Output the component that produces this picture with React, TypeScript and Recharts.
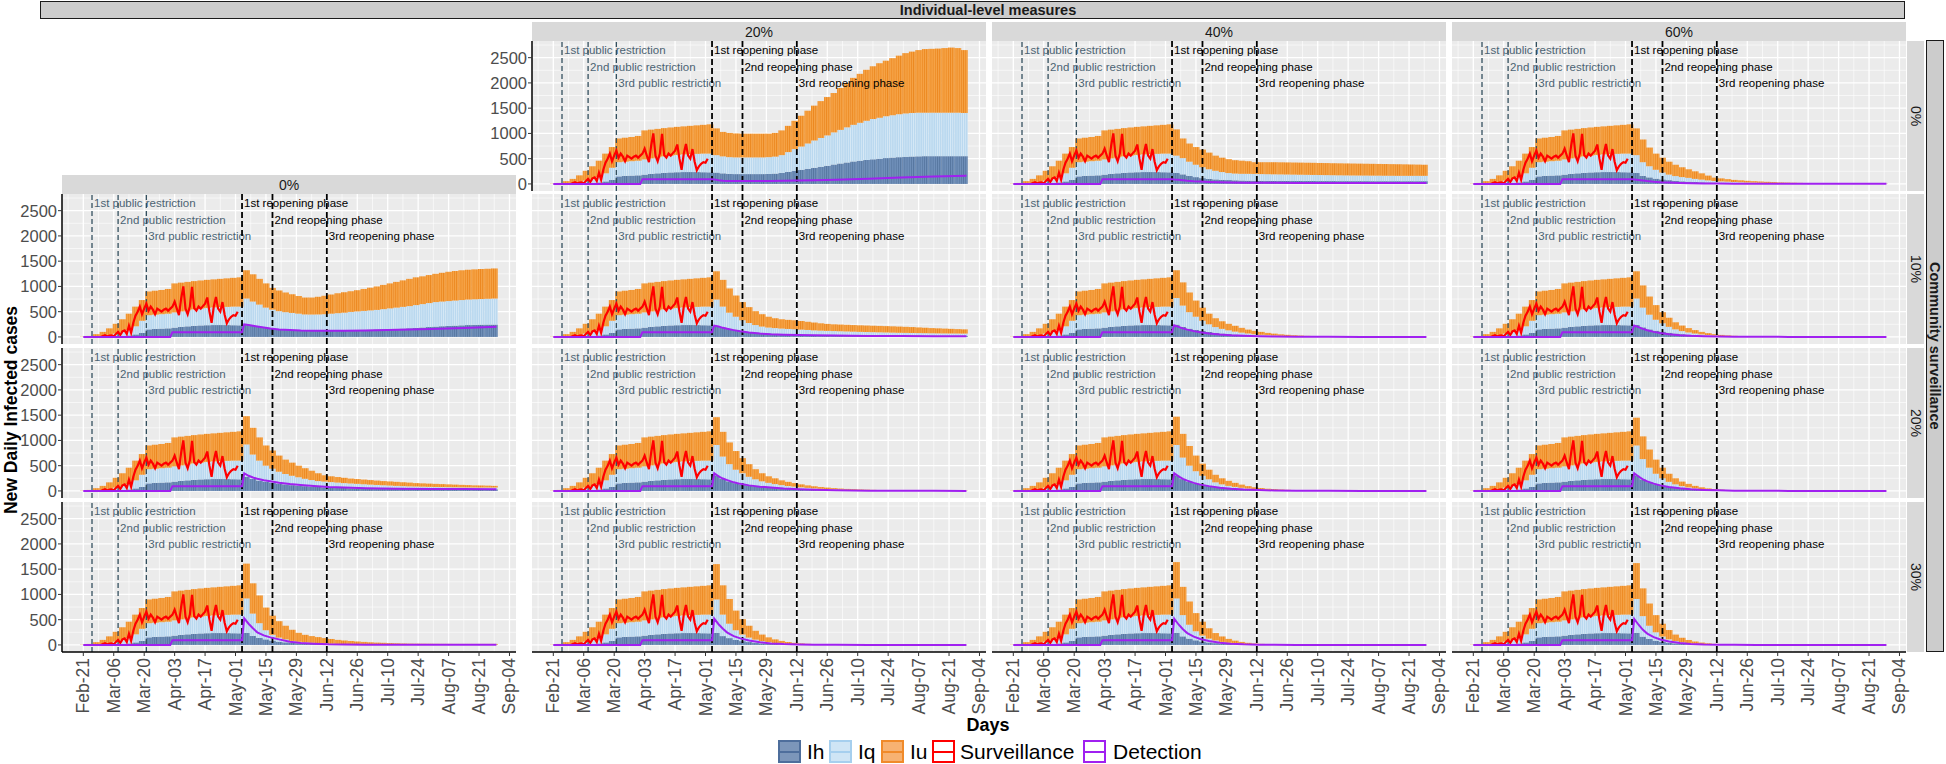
import React from 'react';
import {
  ComposedChart,
  Bar,
  Line,
  XAxis,
  YAxis,
  CartesianGrid,
  ReferenceLine,
} from 'recharts';

// ---------- data ----------
const IND_LEVELS = ['0%', '20%', '40%', '60%'];
const COMMUNITY_LEVELS = ['0%', '10%', '20%', '30%'];
const TICK_DAYS = [0, 14, 28, 42, 56, 70, 84, 98, 112, 126, 140, 154, 168, 182, 196];
const TICK_LABELS = [
  'Feb-21', 'Mar-06', 'Mar-20', 'Apr-03', 'Apr-17', 'May-01', 'May-15', 'May-29',
  'Jun-12', 'Jun-26', 'Jul-10', 'Jul-24', 'Aug-07', 'Aug-21', 'Sep-04',
];

// bars every 3 days from Feb-21 (day 0); first 25 bins (day 0..72) are common to every panel
const PRE_IH_TOP = [0, 0, 2, 5, 8, 12, 20, 30, 50, 80, 150, 160, 165, 170, 185, 200, 210, 220, 228, 232, 235, 235, 235, 232, 230];
const PRE_IQ_TOP = [0, 3, 10, 20, 40, 65, 95, 135, 210, 320, 430, 440, 450, 460, 485, 505, 525, 545, 560, 575, 585, 590, 595, 600, 600];
const PRE_TOTAL = [5, 20, 55, 100, 170, 260, 350, 460, 600, 730, 900, 915, 930, 950, 1060, 1075, 1090, 1105, 1118, 1130, 1140, 1150, 1160, 1170, 1180];

// surveillance, daily from day 8 (Feb-29) to day 71
const SURV_START = 8;
const SURVEILLANCE = [
  0, 20, 35, 10, 25, 30, 10, 60, 100, 40,
  110, 130, 60, 220, 80, 280, 420, 500, 600, 450,
  560, 660, 520, 600, 540, 450, 560, 530, 500, 540,
  560, 520, 560, 600, 700, 560, 430, 760, 1000, 560,
  450, 600, 990, 570, 520, 600, 560, 610, 660, 780,
  500, 280, 600, 790, 560, 500, 690, 440, 270, 350,
  400, 430, 420, 500,
];

const DET_PRE_DAYS = [0, 40, 41, 72];
const DET_PRE = [0, 0, 95, 95];
const DET_DAYS = [73, 74, 76, 78, 80, 83, 86, 90, 95, 100, 106, 113, 120, 130, 145, 160, 175, 190];

// post-May bins: day 75, 78, ..., 189 (39 values). C = community surveillance, I = individual-level
const TOT_C0_I20 = [1100, 1030, 1010, 1000, 995, 995, 995, 995, 995, 1010, 1060, 1150, 1250, 1350, 1450, 1550, 1640, 1720, 1800, 1900, 2000, 2100, 2180, 2260, 2330, 2390, 2440, 2490, 2540, 2590, 2620, 2650, 2670, 2675, 2680, 2690, 2700, 2690, 2650];
const IQTOP_C0_I20 = [570, 545, 530, 525, 525, 525, 525, 525, 530, 540, 570, 630, 690, 740, 800, 860, 910, 960, 1020, 1070, 1120, 1170, 1210, 1250, 1285, 1310, 1340, 1360, 1380, 1395, 1405, 1410, 1410, 1410, 1410, 1410, 1410, 1410, 1405];
const IH_C0_I20 = [225, 210, 200, 195, 195, 195, 195, 195, 198, 205, 220, 240, 260, 280, 300, 320, 340, 360, 385, 405, 425, 445, 460, 475, 488, 500, 512, 522, 530, 538, 543, 547, 550, 550, 550, 550, 550, 550, 550];
const DET_C0_I20 = [95, 90, 75, 65, 60, 58, 58, 58, 58, 60, 62, 66, 72, 85, 105, 125, 145, 160];

const TOT_C0_I40 = [1080, 900, 800, 730, 680, 620, 560, 520, 490, 470, 460, 450, 430, 430, 430, 430, 428, 426, 424, 422, 420, 418, 415, 413, 410, 408, 406, 404, 402, 400, 398, 396, 394, 392, 390, 388, 385, 383, 380];
const IQTOP_C0_I40 = [560, 510, 440, 380, 330, 290, 260, 235, 215, 205, 200, 200, 198, 195, 192, 190, 188, 186, 184, 182, 180, 178, 176, 174, 172, 170, 168, 167, 166, 165, 164, 163, 162, 161, 160, 160, 160, 160, 160];
const IH_C0_I40 = [220, 190, 160, 135, 115, 100, 90, 82, 77, 72, 68, 65, 63, 62, 61, 60, 60, 59, 59, 58, 58, 58, 57, 57, 57, 56, 56, 56, 56, 56, 55, 55, 55, 55, 55, 55, 55, 55, 55];
const DET_C0_I40 = [95, 90, 85, 75, 65, 55, 48, 40, 32, 27, 24, 22, 21, 20, 20, 20, 20, 20];

const TOT_C0_I60 = [1100, 880, 720, 600, 520, 440, 380, 330, 290, 250, 210, 165, 125, 110, 95, 80, 72, 62, 55, 48, 42, 36, 30, 27, 24, 21, 18, 15, 13, 11, 10, 9, 8, 8, 7, 7, 7, 7, 7];
const IQTOP_C0_I60 = [570, 430, 350, 280, 225, 185, 155, 135, 120, 100, 85, 70, 58, 50, 44, 38, 33, 28, 25, 22, 19, 16, 14, 12, 10, 8, 7, 6, 5, 4, 4, 3, 3, 3, 3, 3, 3, 3, 3];
const IH_C0_I60 = [220, 160, 130, 105, 90, 75, 62, 52, 45, 38, 33, 29, 26, 23, 20, 18, 16, 14, 12, 10, 9, 8, 7, 6, 5, 5, 4, 4, 3, 3, 3, 2, 2, 2, 2, 2, 2, 2, 2];
const DET_C0_I60 = [95, 90, 80, 70, 58, 45, 35, 27, 20, 14, 10, 8, 6, 5, 4, 3, 3, 3];

const TOT_C10_I0 = [1320, 1240, 1150, 1060, 970, 920, 880, 845, 810, 780, 780, 795, 815, 840, 865, 885, 905, 925, 950, 975, 1000, 1030, 1060, 1090, 1120, 1150, 1180, 1200, 1225, 1250, 1270, 1290, 1305, 1320, 1330, 1338, 1345, 1350, 1356];
const IQTOP_C10_I0 = [760, 700, 640, 580, 540, 510, 490, 475, 460, 445, 443, 445, 450, 460, 470, 480, 495, 505, 515, 525, 535, 550, 565, 580, 595, 610, 630, 650, 670, 690, 700, 710, 720, 730, 740, 745, 750, 755, 760];
const IH_C10_I0 = [245, 225, 205, 185, 165, 155, 145, 138, 134, 132, 132, 132, 132, 133, 134, 136, 138, 140, 143, 146, 150, 154, 158, 162, 166, 172, 180, 188, 196, 205, 212, 218, 224, 230, 235, 240, 243, 245, 245];
const DET_C10_I0 = [95, 250, 235, 220, 205, 185, 165, 148, 135, 125, 120, 120, 122, 128, 140, 155, 175, 200];

const TOT_C10_I20 = [1300, 1130, 960, 820, 690, 590, 510, 450, 400, 370, 350, 338, 330, 315, 300, 285, 270, 258, 250, 245, 240, 235, 230, 226, 222, 218, 214, 210, 205, 200, 195, 188, 182, 175, 170, 165, 160, 155, 150];
const IQTOP_C10_I20 = [740, 600, 480, 400, 330, 275, 235, 205, 185, 175, 165, 158, 152, 145, 138, 130, 124, 120, 116, 112, 108, 104, 100, 97, 94, 91, 88, 85, 82, 80, 78, 76, 74, 72, 70, 69, 68, 67, 66];
const IH_C10_I20 = [215, 185, 160, 140, 120, 100, 88, 78, 70, 64, 58, 53, 48, 44, 40, 37, 35, 33, 31, 30, 29, 28, 27, 26, 25, 25, 24, 24, 23, 23, 22, 22, 22, 21, 21, 21, 20, 20, 20];
const DET_C10_I20 = [95, 225, 205, 180, 160, 135, 112, 90, 68, 54, 45, 38, 32, 26, 20, 17, 15, 13];

const TOT_C10_I40 = [1320, 1080, 880, 720, 580, 460, 370, 310, 260, 220, 180, 145, 120, 100, 80, 65, 52, 42, 34, 27, 21, 17, 13, 10, 8, 6, 5, 4, 3, 3, 2, 2, 2, 2, 1, 1, 1, 1, 1];
const IQTOP_C10_I40 = [770, 620, 490, 400, 320, 250, 195, 160, 130, 105, 85, 68, 53, 43, 34, 27, 21, 17, 13, 10, 8, 6, 5, 4, 3, 2, 2, 1, 1, 1, 1, 1, 1, 1, 1, 1, 0, 0, 0];
const IH_C10_I40 = [245, 200, 165, 140, 120, 100, 82, 68, 57, 48, 40, 33, 25, 20, 16, 13, 10, 8, 7, 5, 4, 3, 3, 2, 2, 1, 1, 1, 1, 1, 1, 0, 0, 0, 0, 0, 0, 0, 0];
const DET_C10_I40 = [95, 230, 200, 170, 145, 115, 92, 70, 48, 33, 22, 14, 9, 5, 2, 1, 1, 0];

const TOT_C10_I60 = [1300, 1020, 800, 630, 490, 380, 290, 225, 175, 135, 100, 75, 55, 40, 30, 22, 16, 12, 9, 7, 5, 4, 3, 3, 2, 2, 2, 1, 1, 1, 1, 1, 1, 1, 1, 1, 1, 1, 1];
const IQTOP_C10_I60 = [760, 580, 440, 340, 270, 200, 150, 115, 88, 67, 50, 37, 28, 20, 15, 11, 8, 6, 4, 3, 2, 2, 1, 1, 1, 1, 1, 0, 0, 0, 0, 0, 0, 0, 0, 0, 0, 0, 0];
const IH_C10_I60 = [240, 190, 150, 125, 105, 85, 68, 55, 44, 35, 27, 21, 16, 12, 9, 7, 5, 4, 3, 2, 2, 1, 1, 1, 0, 0, 0, 0, 0, 0, 0, 0, 0, 0, 0, 0, 0, 0, 0];
const DET_C10_I60 = [95, 225, 195, 160, 132, 100, 78, 55, 35, 22, 13, 8, 5, 3, 1, 1, 0, 0];

const TOT_C20_I0 = [1480, 1250, 1060, 900, 800, 700, 620, 560, 500, 450, 400, 350, 310, 290, 275, 260, 245, 235, 225, 215, 205, 195, 188, 180, 172, 165, 155, 150, 145, 140, 135, 130, 125, 120, 115, 110, 108, 105, 100];
const IQTOP_C20_I0 = [920, 720, 600, 500, 440, 380, 335, 300, 270, 240, 215, 195, 185, 175, 165, 155, 147, 140, 132, 125, 118, 112, 106, 100, 95, 90, 87, 84, 81, 78, 76, 74, 72, 70, 69, 68, 67, 67, 67];
const IH_C20_I0 = [280, 240, 205, 180, 165, 145, 130, 115, 105, 95, 85, 78, 72, 66, 62, 58, 55, 52, 50, 48, 46, 44, 43, 42, 41, 40, 39, 38, 37, 36, 36, 35, 35, 34, 34, 33, 33, 33, 33];
const DET_C20_I0 = [95, 350, 300, 265, 240, 210, 190, 160, 135, 118, 100, 80, 68, 55, 45, 40, 36, 33];

const TOT_C20_I20 = [1460, 1170, 960, 790, 650, 530, 430, 350, 290, 250, 210, 180, 155, 130, 110, 92, 78, 66, 56, 47, 40, 34, 29, 25, 21, 18, 16, 14, 12, 11, 10, 9, 8, 8, 7, 7, 7, 7, 7];
const IQTOP_C20_I20 = [910, 680, 530, 420, 350, 280, 230, 190, 160, 135, 115, 97, 85, 72, 60, 50, 42, 36, 30, 25, 21, 18, 15, 12, 10, 8, 7, 6, 5, 4, 4, 3, 3, 3, 2, 2, 2, 2, 2];
const IH_C20_I20 = [310, 240, 190, 155, 130, 110, 92, 78, 68, 60, 52, 45, 40, 34, 29, 25, 21, 18, 15, 13, 11, 9, 8, 7, 6, 5, 4, 4, 3, 3, 3, 2, 2, 2, 2, 2, 1, 1, 1];
const DET_C20_I20 = [95, 350, 290, 245, 215, 170, 140, 110, 85, 67, 48, 33, 22, 13, 6, 3, 2, 1];

const TOT_C20_I40 = [1470, 1130, 890, 700, 540, 420, 320, 250, 200, 160, 125, 95, 73, 57, 44, 35, 28, 22, 17, 13, 10, 8, 6, 5, 4, 3, 3, 2, 2, 2, 1, 1, 1, 1, 1, 1, 1, 1, 1];
const IQTOP_C20_I40 = [910, 660, 500, 390, 300, 230, 170, 130, 100, 80, 62, 47, 35, 27, 21, 16, 12, 9, 7, 5, 4, 3, 2, 2, 1, 1, 1, 1, 1, 1, 0, 0, 0, 0, 0, 0, 0, 0, 0];
const IH_C20_I40 = [310, 235, 185, 150, 125, 100, 80, 65, 55, 45, 37, 30, 23, 18, 14, 11, 9, 7, 5, 4, 3, 2, 2, 1, 1, 1, 1, 0, 0, 0, 0, 0, 0, 0, 0, 0, 0, 0, 0];
const DET_C20_I40 = [95, 350, 290, 240, 205, 160, 125, 95, 65, 45, 28, 16, 10, 5, 2, 1, 0, 0];

const TOT_C20_I60 = [1450, 1080, 820, 620, 460, 340, 250, 185, 140, 100, 72, 50, 35, 25, 18, 13, 9, 7, 5, 4, 3, 2, 2, 1, 1, 1, 1, 1, 1, 1, 1, 1, 1, 1, 1, 1, 1, 1, 1];
const IQTOP_C20_I60 = [900, 630, 460, 340, 250, 180, 130, 95, 70, 50, 36, 26, 19, 13, 9, 7, 5, 3, 2, 2, 1, 1, 1, 1, 0, 0, 0, 0, 0, 0, 0, 0, 0, 0, 0, 0, 0, 0, 0];
const IH_C20_I60 = [310, 230, 175, 135, 105, 80, 62, 48, 37, 28, 21, 16, 12, 9, 7, 5, 4, 3, 2, 2, 1, 1, 0, 0, 0, 0, 0, 0, 0, 0, 0, 0, 0, 0, 0, 0, 0, 0, 0];
const DET_C20_I60 = [95, 350, 285, 230, 190, 145, 110, 80, 52, 33, 20, 11, 6, 3, 1, 0, 0, 0];

const TOT_C30_I0 = [1610, 1220, 980, 740, 580, 470, 380, 300, 240, 200, 175, 155, 135, 118, 100, 88, 78, 68, 60, 52, 46, 42, 37, 33, 29, 26, 25, 24, 23, 22, 21, 21, 20, 20, 20, 20, 20, 20, 20];
const IQTOP_C30_I0 = [920, 620, 430, 290, 200, 145, 110, 80, 62, 50, 42, 35, 28, 23, 19, 16, 13, 11, 9, 8, 7, 6, 5, 5, 4, 4, 4, 3, 3, 3, 3, 3, 3, 3, 3, 3, 3, 3, 3];
const IH_C30_I0 = [240, 180, 140, 110, 85, 65, 52, 42, 35, 30, 25, 21, 18, 15, 13, 11, 10, 9, 8, 7, 6, 5, 5, 4, 4, 4, 4, 3, 3, 3, 3, 3, 3, 3, 3, 3, 3, 3, 3];
const DET_C30_I0 = [95, 526, 420, 330, 250, 190, 150, 110, 65, 40, 25, 13, 8, 5, 3, 2, 2, 2];

const TOT_C30_I20 = [1600, 1180, 910, 680, 510, 380, 280, 205, 150, 110, 80, 58, 42, 30, 22, 16, 12, 9, 7, 5, 4, 3, 3, 2, 2, 1, 1, 1, 1, 1, 1, 1, 1, 1, 1, 1, 1, 1, 1];
const IQTOP_C30_I20 = [900, 600, 420, 290, 205, 145, 105, 75, 53, 38, 27, 19, 14, 10, 7, 5, 4, 3, 2, 2, 1, 1, 1, 1, 1, 0, 0, 0, 0, 0, 0, 0, 0, 0, 0, 0, 0, 0, 0];
const IH_C30_I20 = [240, 175, 135, 100, 75, 57, 43, 32, 24, 18, 13, 10, 7, 5, 4, 3, 2, 2, 1, 1, 1, 0, 0, 0, 0, 0, 0, 0, 0, 0, 0, 0, 0, 0, 0, 0, 0, 0, 0];
const DET_C30_I20 = [95, 520, 410, 320, 245, 175, 130, 88, 52, 30, 16, 8, 4, 2, 1, 0, 0, 0];

const TOT_C30_I40 = [1640, 1150, 860, 630, 460, 330, 235, 168, 120, 85, 60, 42, 30, 21, 15, 10, 7, 5, 4, 3, 2, 2, 1, 1, 1, 1, 1, 1, 1, 1, 1, 1, 1, 1, 1, 1, 1, 1, 1];
const IQTOP_C30_I40 = [920, 590, 400, 270, 185, 125, 88, 60, 42, 29, 20, 14, 10, 7, 5, 3, 2, 2, 1, 1, 1, 0, 0, 0, 0, 0, 0, 0, 0, 0, 0, 0, 0, 0, 0, 0, 0, 0, 0];
const IH_C30_I40 = [240, 170, 125, 92, 68, 50, 36, 26, 19, 14, 10, 7, 5, 4, 3, 2, 1, 1, 1, 0, 0, 0, 0, 0, 0, 0, 0, 0, 0, 0, 0, 0, 0, 0, 0, 0, 0, 0, 0];
const DET_C30_I40 = [95, 520, 405, 310, 235, 165, 118, 78, 44, 25, 12, 5, 2, 1, 0, 0, 0, 0];

const TOT_C30_I60 = [1620, 1120, 820, 590, 420, 295, 205, 142, 98, 68, 47, 32, 22, 15, 10, 7, 5, 3, 2, 2, 1, 1, 1, 1, 1, 1, 1, 1, 1, 1, 1, 1, 1, 1, 1, 1, 1, 1, 1];
const IQTOP_C30_I60 = [910, 570, 380, 250, 165, 110, 75, 50, 34, 23, 15, 10, 7, 5, 3, 2, 1, 1, 1, 0, 0, 0, 0, 0, 0, 0, 0, 0, 0, 0, 0, 0, 0, 0, 0, 0, 0, 0, 0];
const IH_C30_I60 = [240, 165, 120, 85, 62, 45, 32, 23, 16, 11, 8, 5, 4, 3, 2, 1, 1, 1, 0, 0, 0, 0, 0, 0, 0, 0, 0, 0, 0, 0, 0, 0, 0, 0, 0, 0, 0, 0, 0];
const DET_C30_I60 = [95, 515, 400, 300, 225, 155, 108, 70, 38, 20, 9, 4, 2, 1, 0, 0, 0, 0];

const EVENTS = [
  { day: 4, text: '1st public restriction', slot: 0, kind: 'public' },
  { day: 16, text: '2nd public restriction', slot: 1, kind: 'public' },
  { day: 29, text: '3rd public restriction', slot: 2, kind: 'public' },
  { day: 73, text: '1st reopening phase', slot: 0, kind: 'reopen' },
  { day: 87, text: '2nd reopening phase', slot: 1, kind: 'reopen' },
  { day: 112, text: '3rd reopening phase', slot: 2, kind: 'reopen' },
];

// ---------- layout ----------
const FONT = '"Liberation Sans", Arial, Helvetica, sans-serif';
const BAR_STEP = 3;
const X_MIN = -9.8;
const X_MAX = 199;
const Y_MIN = -140;
const Y_MAX = 2830;
const PANEL_W = 454;
const PANEL_H = 150;
const PX_DAY = PANEL_W / (X_MAX - X_MIN);
const COL_X = [62, 532, 992, 1452];
const ROW_Y = [41, 194, 348, 502];
const Y_TICKS = [0, 500, 1000, 1500, 2000, 2500];
const Y_MINOR = [250, 750, 1250, 1750, 2250, 2750];
const X_MINOR = [-7, 7, 21, 35, 49, 63, 77, 91, 105, 119, 133, 147, 161, 175, 189];
const LABEL_DY = [9, 25.5, 41.5];
const PAD_BOTTOM = 8; // room so the "0" tick label is not clipped
const PAD_RIGHT = 12; // room for the last rotated date label

const COLORS = {
  ih: { base: '#7090BA', stripe: '#56769F' },
  iq: { base: '#B9D8EF', stripe: '#D5E8F6' },
  iu: { base: '#F6A346', stripe: '#EC8820' },
};

const PANELS = [
  { row: 0, col: 1, ih: IH_C0_I20, iq: IQTOP_C0_I20, tot: TOT_C0_I20, det: DET_C0_I20 },
  { row: 0, col: 2, ih: IH_C0_I40, iq: IQTOP_C0_I40, tot: TOT_C0_I40, det: DET_C0_I40 },
  { row: 0, col: 3, ih: IH_C0_I60, iq: IQTOP_C0_I60, tot: TOT_C0_I60, det: DET_C0_I60 },
  { row: 1, col: 0, ih: IH_C10_I0, iq: IQTOP_C10_I0, tot: TOT_C10_I0, det: DET_C10_I0 },
  { row: 1, col: 1, ih: IH_C10_I20, iq: IQTOP_C10_I20, tot: TOT_C10_I20, det: DET_C10_I20 },
  { row: 1, col: 2, ih: IH_C10_I40, iq: IQTOP_C10_I40, tot: TOT_C10_I40, det: DET_C10_I40 },
  { row: 1, col: 3, ih: IH_C10_I60, iq: IQTOP_C10_I60, tot: TOT_C10_I60, det: DET_C10_I60 },
  { row: 2, col: 0, ih: IH_C20_I0, iq: IQTOP_C20_I0, tot: TOT_C20_I0, det: DET_C20_I0 },
  { row: 2, col: 1, ih: IH_C20_I20, iq: IQTOP_C20_I20, tot: TOT_C20_I20, det: DET_C20_I20 },
  { row: 2, col: 2, ih: IH_C20_I40, iq: IQTOP_C20_I40, tot: TOT_C20_I40, det: DET_C20_I40 },
  { row: 2, col: 3, ih: IH_C20_I60, iq: IQTOP_C20_I60, tot: TOT_C20_I60, det: DET_C20_I60 },
  { row: 3, col: 0, ih: IH_C30_I0, iq: IQTOP_C30_I0, tot: TOT_C30_I0, det: DET_C30_I0 },
  { row: 3, col: 1, ih: IH_C30_I20, iq: IQTOP_C30_I20, tot: TOT_C30_I20, det: DET_C30_I20 },
  { row: 3, col: 2, ih: IH_C30_I40, iq: IQTOP_C30_I40, tot: TOT_C30_I40, det: DET_C30_I40 },
  { row: 3, col: 3, ih: IH_C30_I60, iq: IQTOP_C30_I60, tot: TOT_C30_I60, det: DET_C30_I60 },
];

const survData = SURVEILLANCE.map((v, i) => ({ day: SURV_START + i, v }));

function buildBars(ih: number[], iq: number[], tot: number[]) {
  const a = [...PRE_IH_TOP, ...ih];
  const b = [...PRE_IQ_TOP, ...iq];
  const t = [...PRE_TOTAL, ...tot];
  return a.map((v, i) => ({
    day: i * BAR_STEP,
    ih: v,
    iq: Math.max(0, b[i] - v),
    iu: Math.max(0, t[i] - b[i]),
  }));
}

function buildDet(det: number[]) {
  return [
    ...DET_PRE_DAYS.map((d, i) => ({ day: d, v: DET_PRE[i] })),
    ...DET_DAYS.map((d, i) => ({ day: d, v: det[i] })),
  ];
}

// bars drawn 3 days wide, striped like the daily outlines of the original
const makeShape = (patId: string) => (props: any) => {
  const { x, y, width, height } = props;
  if (!height || height <= 0) return <g />;
  const w = BAR_STEP * PX_DAY + 0.2;
  const cx = x + width / 2;
  return <rect x={cx - w / 2} y={y} width={w} height={height} fill={`url(#${patId})`} />;
};

const VLabel = (props: any) => {
  const { viewBox, text, slot, color } = props;
  if (!viewBox) return null;
  return (
    <text
      x={viewBox.x + 2}
      y={viewBox.y + LABEL_DY[slot]}
      fill={color}
      fontSize={11.5}
      fontFamily={FONT}
      dominantBaseline="central"
    >
      {text}
    </text>
  );
};

const XTick = (props: any) => {
  const { x, y, payload } = props;
  const label = TICK_LABELS[TICK_DAYS.indexOf(payload.value)];
  return (
    <text
      x={x}
      y={y}
      transform={`rotate(-90 ${x} ${y})`}
      textAnchor="end"
      dominantBaseline="central"
      fontSize={17.5}
      fill="#4D4D4D"
      fontFamily={FONT}
    >
      {label}
    </text>
  );
};

const Panel = ({ p, idx }: { p: any; idx: number }) => {
  const showY = p.col === 0 || (p.row === 0 && p.col === 1);
  const showX = p.row === 3;
  const yW = showY ? 62 : 0;
  const xH = showX ? 75 : 0;
  const padB = showX ? 0 : PAD_BOTTOM;
  const bars = buildBars(p.ih, p.iq, p.tot);
  const det = buildDet(p.det);
  const px = (d: number) => yW + (d - X_MIN) * PX_DAY;
  const py = (v: number) => ((Y_MAX - v) / (Y_MAX - Y_MIN)) * PANEL_H;
  const key = `p${idx}`;

  return (
    <div style={{ position: 'absolute', left: COL_X[p.col] - yW, top: ROW_Y[p.row] }}>
      <ComposedChart
        width={PANEL_W + yW + PAD_RIGHT}
        height={PANEL_H + xH + padB}
        data={bars}
        margin={{ top: 0, right: PAD_RIGHT, bottom: padB, left: 0 }}
      >
        <defs>
          {(['ih', 'iq', 'iu'] as const).map((s) => (
            <pattern
              key={s}
              id={`${s}-${key}`}
              patternUnits="userSpaceOnUse"
              x={px(-0.5)}
              width={PX_DAY}
              height={8}
            >
              <rect width={PX_DAY} height={8} fill={COLORS[s].base} />
              <rect width={0.8} height={8} fill={COLORS[s].stripe} />
            </pattern>
          ))}
        </defs>
        <CartesianGrid
          fill="#EBEBEB"
          stroke="#FFFFFF"
          strokeWidth={0.6}
          horizontalPoints={Y_MINOR.map(py)}
          verticalPoints={X_MINOR.map(px)}
        />
        <CartesianGrid
          stroke="#FFFFFF"
          strokeWidth={1.3}
          horizontalPoints={Y_TICKS.map(py)}
          verticalPoints={TICK_DAYS.map(px)}
        />
        <XAxis
          type="number"
          dataKey="day"
          domain={[X_MIN, X_MAX]}
          allowDataOverflow
          ticks={TICK_DAYS}
          interval={0}
          hide={!showX}
          height={75}
          axisLine={{ stroke: '#000', strokeWidth: 1.5 }}
          tickLine={{ stroke: '#333' }}
          tickSize={4}
          tickMargin={2}
          tick={<XTick />}
        />
        <YAxis
          type="number"
          domain={[Y_MIN, Y_MAX]}
          allowDataOverflow
          ticks={Y_TICKS}
          interval={0}
          hide={!showY}
          width={62}
          axisLine={{ stroke: '#000', strokeWidth: 1.5 }}
          tickLine={{ stroke: '#333' }}
          tickSize={4}
          tickMargin={1}
          tick={{ fill: '#4D4D4D', fontSize: 16.5, fontFamily: FONT }}
        />
        <Bar dataKey="ih" stackId="s" isAnimationActive={false} shape={makeShape(`ih-${key}`)} />
        <Bar dataKey="iq" stackId="s" isAnimationActive={false} shape={makeShape(`iq-${key}`)} />
        <Bar dataKey="iu" stackId="s" isAnimationActive={false} shape={makeShape(`iu-${key}`)} />
        {EVENTS.map((e) => (
          <ReferenceLine
            key={e.text}
            x={e.day}
            stroke={e.kind === 'public' ? '#34505F' : '#000000'}
            strokeWidth={e.kind === 'public' ? 1.3 : 1.8}
            strokeDasharray={e.kind === 'public' ? '5 3' : '6 3'}
            label={
              <VLabel
                text={e.text}
                slot={e.slot}
                color={e.kind === 'public' ? '#4B6373' : '#000000'}
              />
            }
          />
        ))}
        <Line
          data={survData}
          dataKey="v"
          type="linear"
          stroke="#FF0000"
          strokeWidth={2.2}
          dot={false}
          isAnimationActive={false}
        />
        <Line
          data={det}
          dataKey="v"
          type="linear"
          stroke="#A020F0"
          strokeWidth={2}
          dot={false}
          isAnimationActive={false}
        />
      </ComposedChart>
    </div>
  );
};

const LEGEND = [
  { label: 'Ih', box: 778, text: 807, fill: '#7C96BA', border: '#4E6E9C' },
  { label: 'Iq', box: 829, text: 858, fill: '#CFE5F5', border: '#A6CFEE' },
  { label: 'Iu', box: 881, text: 910, fill: '#F7B272', border: '#F08A2A' },
  { label: 'Surveillance', box: 932, text: 960, fill: '#FFFFFF', border: '#FF0000' },
  { label: 'Detection', box: 1083, text: 1113, fill: '#FFFFFF', border: '#A020F0' },
];

const stripBase: React.CSSProperties = {
  position: 'absolute',
  background: '#D9D9D9',
  color: '#1A1A1A',
  fontFamily: FONT,
  fontSize: 14,
  display: 'flex',
  alignItems: 'center',
  justifyContent: 'center',
  boxSizing: 'border-box',
};

export default function App() {
  return (
    <div
      style={{
        position: 'absolute',
        left: 0,
        top: 0,
        width: 1946,
        height: 764,
        background: '#FFFFFF',
        overflow: 'hidden',
        fontFamily: FONT,
      }}
    >
      {/* outer column strip */}
      <div
        style={{
          ...stripBase,
          left: 40,
          top: 1,
          width: 1865,
          height: 18,
          background: '#CCCCCC',
          border: '1.5px solid #1A1A1A',
          fontWeight: 'bold',
          fontSize: 14.5,
          justifyContent: 'flex-start',
        }}
      >
        <span style={{ position: 'absolute', left: 947, transform: 'translateX(-50%)' }}>
          Individual-level measures
        </span>
      </div>
      {/* column strips */}
      {IND_LEVELS.map((lvl, c) => (
        <div
          key={lvl}
          style={{
            ...stripBase,
            left: COL_X[c],
            top: c === 0 ? 175 : 22,
            width: PANEL_W,
            height: 19,
          }}
        >
          {lvl}
        </div>
      ))}
      {/* row strips */}
      {COMMUNITY_LEVELS.map((lvl, r) => (
        <div
          key={lvl}
          style={{
            ...stripBase,
            left: 1907,
            top: ROW_Y[r],
            width: 17,
            height: PANEL_H,
            writingMode: 'vertical-rl',
          }}
        >
          {lvl}
        </div>
      ))}
      <div
        style={{
          ...stripBase,
          left: 1926,
          top: 40,
          width: 18,
          height: 612,
          background: '#CCCCCC',
          border: '1.5px solid #1A1A1A',
          fontWeight: 'bold',
          fontSize: 14.5,
          writingMode: 'vertical-rl',
        }}
      >
        Community surveillance
      </div>

      {PANELS.map((p, i) => (
        <Panel key={i} p={p} idx={i} />
      ))}

      {/* axis titles */}
      <div
        style={{
          position: 'absolute',
          left: 10.5,
          top: 410,
          transform: 'translate(-50%, -50%) rotate(-90deg)',
          whiteSpace: 'nowrap',
          fontWeight: 'bold',
          fontSize: 17.5,
          lineHeight: '19px',
          color: '#000',
        }}
      >
        New Daily Infected cases
      </div>
      <div
        style={{
          position: 'absolute',
          left: 988,
          top: 725,
          transform: 'translate(-50%, -50%)',
          fontWeight: 'bold',
          fontSize: 18,
          color: '#000',
        }}
      >
        Days
      </div>

      {/* legend */}
      {LEGEND.map((l) => (
        <React.Fragment key={l.label}>
          <div
            style={{
              position: 'absolute',
              left: l.box,
              top: 740,
              width: 23,
              height: 23,
              boxSizing: 'border-box',
              background: l.fill,
              border: `2px solid ${l.border}`,
            }}
          >
            <div
              style={{
                position: 'absolute',
                left: 0,
                right: 0,
                top: 8.5,
                height: 2,
                background: l.border,
              }}
            />
          </div>
          <div
            style={{
              position: 'absolute',
              left: l.text,
              top: 751.5,
              transform: 'translateY(-50%)',
              fontSize: 21,
              color: '#000',
              whiteSpace: 'nowrap',
            }}
          >
            {l.label}
          </div>
        </React.Fragment>
      ))}
    </div>
  );
}
